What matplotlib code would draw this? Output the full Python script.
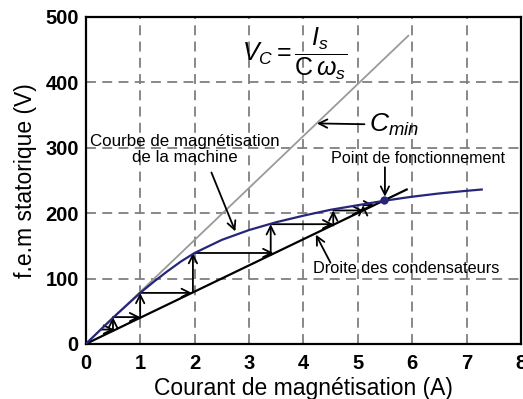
import numpy as np
import matplotlib.pyplot as plt

plt.rcParams['font.family'] = ['Liberation Sans', 'DejaVu Sans']
plt.rcParams['mathtext.fontset'] = 'custom'
plt.rcParams['mathtext.it'] = 'Liberation Sans:italic'
plt.rcParams['mathtext.rm'] = 'Liberation Sans'

# magnetisation curve of the machine (A, V)
i_mag = [0, 0.25, 0.5, 0.75, 1.0, 1.25, 1.5, 1.75, 2.0, 2.5, 3.0, 3.5,
         4.0, 4.5, 5.0, 5.5, 6.0, 6.5, 7.0, 7.28]
v_mag = [0, 20, 40, 59, 78, 95, 111, 126, 139, 159, 174, 186,
         196, 205, 212, 219, 225, 230, 234, 236]

# C_min line and capacitor line
i_cmin = [0, 5.93]
v_cmin = [0, 471]
i_cap = [0, 5.9]
v_cap = [0, 236]

# operating point
i_op, v_op = 5.49, 220

# self-excitation staircase: (x0, y0, x1, y1)
steps = [
    (0.28, 22, 0.52, 22),
    (0.5, 20, 0.5, 41),
    (0.5, 41, 1.0, 41),
    (1.0, 40, 1.0, 78),
    (1.0, 78, 1.95, 78),
    (1.97, 79, 1.97, 139),
    (2.0, 139, 3.45, 139),
    (3.4, 136, 3.4, 183),
    (3.4, 183, 4.55, 183),
    (4.55, 181, 4.55, 204),
    (4.55, 204, 5.1, 204),
    (5.1, 204, 5.1, 212),
    (5.1, 212, 5.3, 212),
]

fig = plt.figure(figsize=(5.23, 3.99), dpi=100)
ax = fig.add_axes([0.164, 0.138, 0.832, 0.82])

ax.plot(i_cmin, v_cmin, color='#9a9a9a', lw=1.3, zorder=2)
ax.plot(i_cap, v_cap, color='black', lw=1.6, zorder=3)
ax.plot(i_mag, v_mag, color='#26267a', lw=1.6, zorder=4)
ax.plot(i_op, v_op, 'o', color='#26267a', ms=5, zorder=5)

arrow = dict(arrowstyle='->', color='black', lw=1.3,
             shrinkA=0, shrinkB=0, mutation_scale=15)

for x0, y0, x1, y1 in steps:
    ax.annotate('', xy=(x1, y1), xytext=(x0, y0), arrowprops=arrow, zorder=3)

ax.set_xlim(0, 8)
ax.set_ylim(0, 500)
ax.set_xticks(range(0, 9))
ax.set_yticks(range(0, 501, 100))
ax.tick_params(length=0, labelsize=14.5)
ax.tick_params(axis='x', pad=7)
ax.tick_params(axis='y', pad=5)
for lab in ax.get_xticklabels() + ax.get_yticklabels():
    lab.set_fontweight('bold')
ax.grid(True, color='#7f7f7f', ls=(0, (5.5, 3.5)), lw=1.3)
for s in ax.spines.values():
    s.set_linewidth(1.6)

ax.set_xlabel('Courant de magnétisation (A)', fontsize=16.5, labelpad=3)
ax.set_ylabel('f.e.m statorique (V)', fontsize=16.5, labelpad=6)

ax.text(3.85, 443, r'$V_C = \dfrac{I_s}{\mathrm{C}\,\omega_s}$', fontsize=18,
        ha='center', va='center')

ax.annotate(r'$C_{min}$', xy=(4.25, 337), xytext=(5.2, 335),
            fontsize=19, va='center', ha='left',
            arrowprops=dict(arrow, shrinkA=1))

ax.text(1.83, 297, 'Courbe de magnétisation\nde la machine', fontsize=12.2,
        ha='center', va='center', linespacing=1.05)
ax.annotate('', xy=(2.75, 172), xytext=(2.31, 262), arrowprops=arrow)

ax.text(6.1, 284, 'Point de fonctionnement', fontsize=11.6,
        ha='center', va='center')
ax.annotate('', xy=(5.5, 225), xytext=(5.5, 270), arrowprops=arrow)

ax.text(5.9, 115, 'Droite des condensateurs', fontsize=11.8,
        ha='center', va='center')
ax.annotate('', xy=(4.23, 167), xytext=(4.5, 124), arrowprops=arrow)

fig.savefig('out.png', dpi=100)
